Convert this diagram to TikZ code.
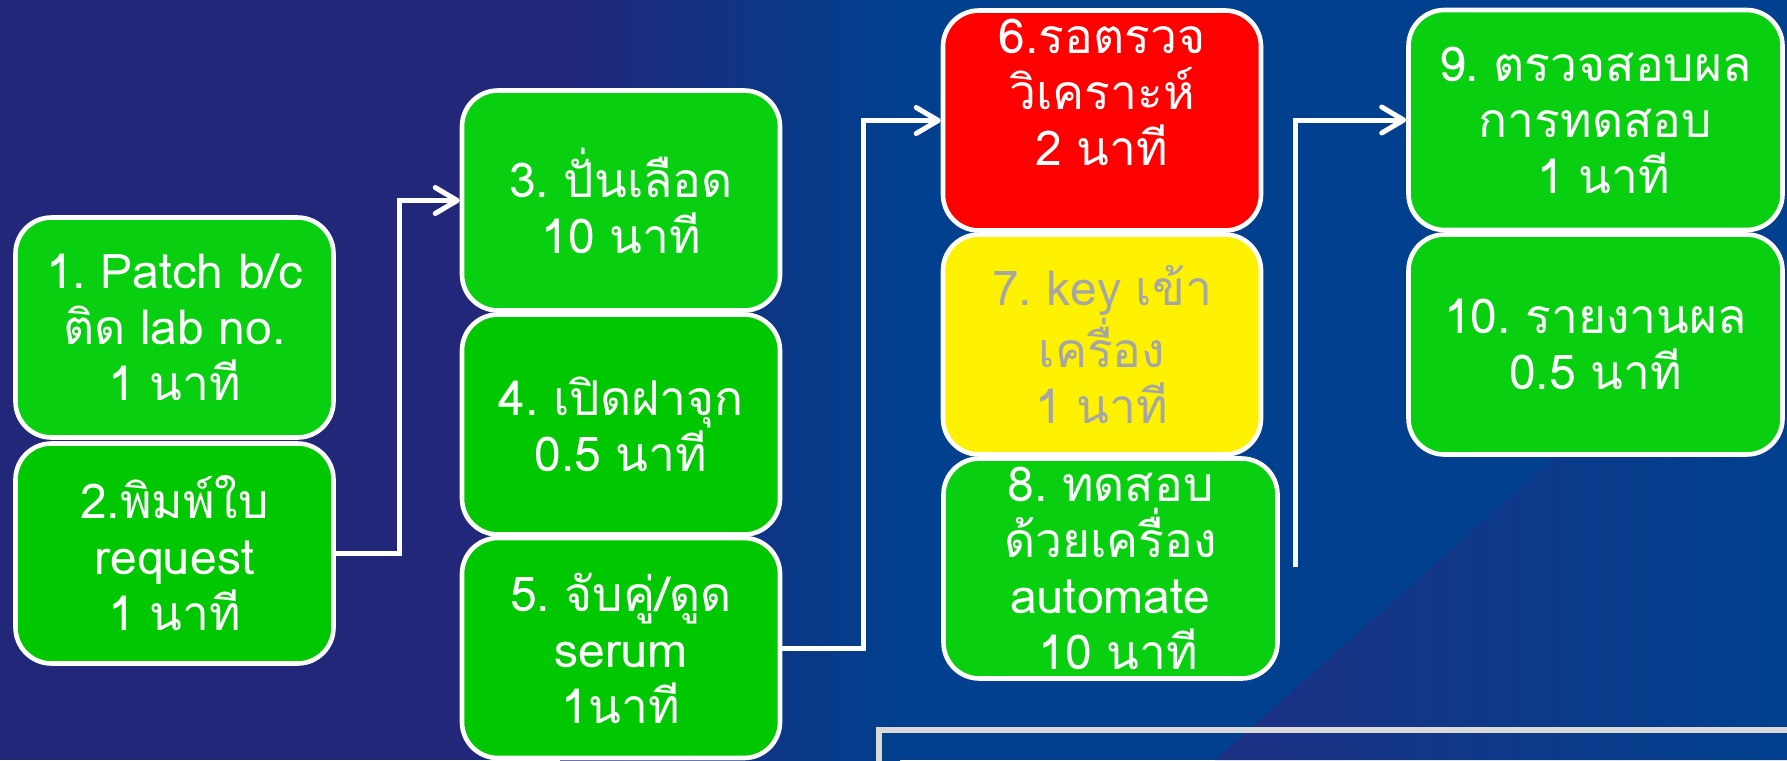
\documentclass[tikz,border=0pt]{standalone}
\usepackage{fontspec}
\setmainfont[Script=Thai, WordSpace=0.9]{Loma}
\frenchspacing
\usetikzlibrary{arrows.meta}

\definecolor{bgnavy}{RGB}{34,39,122}
\definecolor{bgblue}{RGB}{0,64,142}
\definecolor{bgdeep}{RGB}{28,48,132}
\definecolor{boxgreen}{RGB}{8,208,16}
\definecolor{boxgreendk}{RGB}{0,200,0}
\definecolor{keygray}{RGB}{166,166,166}
\definecolor{framegray}{RGB}{217,217,217}

\begin{document}
\begin{tikzpicture}[x=0.5pt, y=-0.5pt,
    stepbox/.style={draw=white, line width=2.3pt, rounded corners=18pt,
      minimum width=159pt, minimum height=110pt, inner sep=0pt,
      align=center, text=white, font=\fontsize{24}{28}\selectfont},
    arw/.style={-{Straight Barb[length=11pt,width=13pt,round]},
      draw=white, line width=2.5pt}]
  \useasboundingbox (0,0) rectangle (1787,760);
  \clip (0,0) rectangle (1787,760);

  % background
  \fill[bgnavy] (0,0) rectangle (1787,760);
  \shade[left color=bgnavy, right color=bgblue] (560,0) rectangle (900,760);
  \fill[bgblue] (900,0) rectangle (1787,760);
  \shade[left color=bgdeep, right color=bgblue] (1215,760) -- (1787,250) -- (1787,760) -- cycle;

  % steps
  \node[stepbox, fill=boxgreen] (b1) at (174.5,327.5) {1. Patch b/c\\ติด lab no.\\1 นาที};
  \node[stepbox, fill=boxgreendk] (b2) at (174.5,553.5) {2.พิมพ์ใบ\\request\\1 นาที};
  \node[stepbox, fill=boxgreen] (b3) at (621,200.5) {3. ปั่นเลือด\\10 นาที};
  \node[stepbox, fill=boxgreendk] (b4) at (621,424.5) {4. เปิดฝาจุก\\0.5 นาที};
  \node[stepbox, fill=boxgreendk] (b5) at (621,648) {5. จับคู่/ดูด\\serum\\1นาที};
  \node[stepbox, fill=red] (b6) at (1102,120.5) {6.รอตรวจ\\วิเคราะห์\\2 นาที\\ \mbox{}};
  \node[stepbox, fill=yellow, text=keygray] (b7) at (1102,344.5) {7. key เข้า\\เครื่อง\\1 นาที};
  \node[stepbox, fill=boxgreen, minimum width=167pt] (b8) at (1110.5,568.5)
    {8. ทดสอบ\\ด้วยเครื่อง\\automate\\\hspace*{8pt}10 นาที};
  \node[stepbox, fill=boxgreen, minimum width=187pt] (b9) at (1595.5,120)
    {9. ตรวจสอบผล\\การทดสอบ\\\hspace*{8pt}1 นาที};
  \node[stepbox, fill=boxgreen, minimum width=187pt] (b10) at (1595.5,344.5) {10. รายงานผล\\0.5 นาที};

  % flow
  \coordinate (k1) at (399,0);
  \coordinate (k2) at (863,0);
  \coordinate (s3) at (1295,567);
  \draw[arw] (b2.east) -- (b2.east -| k1) |- (b3.west);
  \draw[arw] (b5.east) -- (b5.east -| k2) |- (b6.west);
  \draw[arw] (s3) |- (b9.west);

  % summary frame (cut off)
  \draw[framegray, line width=3pt] (879,730) rectangle (1850,820);
\end{tikzpicture}
\end{document}
